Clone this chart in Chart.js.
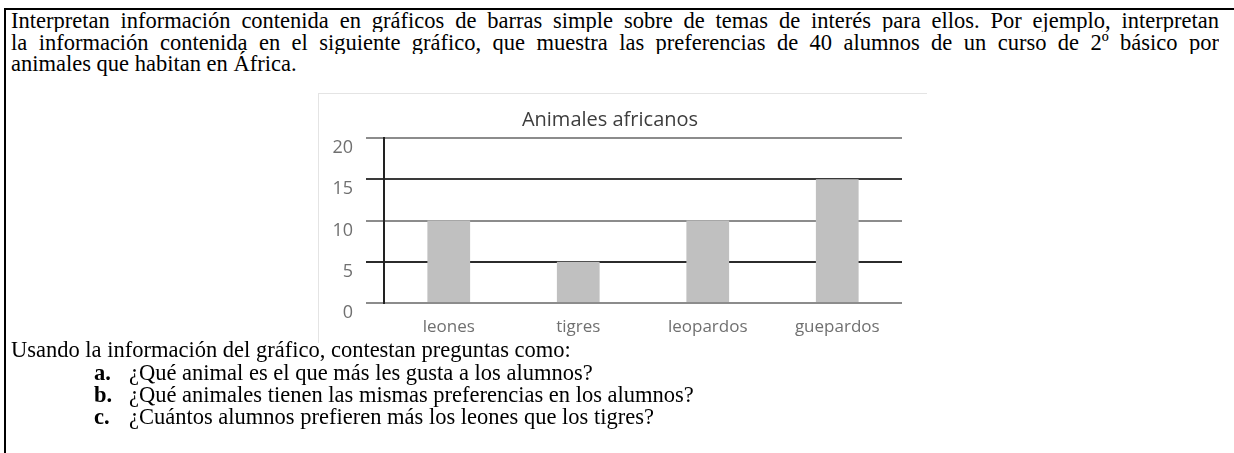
<!DOCTYPE html>
<html lang="es">
<head>
<meta charset="utf-8">
<script src="https://cdn.jsdelivr.net/npm/chart.js@4.4.1/dist/chart.umd.min.js"></script>
<style>
    html, body { margin: 0; padding: 0; background: #fff; width: 1234px; height: 453px; overflow: hidden; }
    #box { position: absolute; left: 4px; top: 8px; width: 1250px; height: 470px; border-top: 2px solid #000; border-left: 2px solid #000; }
    .line { position: absolute; left: 11px; font-family: "Liberation Serif", "Times New Roman", serif; font-size: 22.5px; line-height: 22px; color: #000; white-space: nowrap; }
    .just { width: 1208px; text-align: justify; text-align-last: justify; white-space: normal; height: 22px; overflow: hidden; }
    .item b { position: absolute; left: 83px; }
    .item span { position: absolute; left: 118px; }
    #frame { position: absolute; left: 318px; top: 93px; width: 609px; height: 250px; border-top: 1px solid #e4e4e4; border-left: 1px solid #e4e4e4; box-sizing: border-box; }
    #chartWrap { position: absolute; left: 318px; top: 93px; width: 609px; height: 250px; }
</style>
</head>
<body>
<div id="box"></div>
<div class="line just" style="top:10px">Interpretan información contenida en gráficos de barras simple sobre de temas de interés para ellos. Por ejemplo, interpretan</div>
<div class="line just" style="top:31.5px">la información contenida en el siguiente gráfico, que muestra las preferencias de 40 alumnos de un curso de 2º básico por</div>
<div class="line" style="top:53px">animales que habitan en África.</div>

<div id="frame"></div>
<div id="chartWrap"><canvas id="chartCanvas" width="609" height="250"></canvas></div>

<div class="line" style="top:338.5px">Usando la información del gráfico, contestan preguntas como:</div>
<div class="line item" style="top:362px"><b>a.</b><span>¿Qué animal es el que más les gusta a los alumnos?</span></div>
<div class="line item" style="top:384px"><b>b.</b><span>¿Qué animales tienen las mismas preferencias en los alumnos?</span></div>
<div class="line item" style="top:405.5px"><b>c.</b><span>¿Cuántos alumnos prefieren más los leones que los tigres?</span></div>

<script>
// Chart data
const categories = ["leones", "tigres", "leopardos", "guepardos"];
const votes = [10, 5, 10, 15];
const yMin = 0;
const yMax = 20;
const yStep = 5;

// Grid lines alternate between grey and dark in the original
const gridColors = ["#8c8c8c", "#2b2b2b", "#8c8c8c", "#3a3a3a", "#8c8c8c"];

const ctx = document.getElementById("chartCanvas").getContext("2d");
const chart = new Chart(ctx, {
    type: "bar",
    data: {
        labels: categories,
        datasets: [
            {
                data: votes,
                backgroundColor: "#c0c0c0",
                borderWidth: 0,
                barPercentage: 0.33,
                categoryPercentage: 1
            }
        ]
    },
    options: {
        animation: false,
        responsive: false,
        devicePixelRatio: 1,
        layout: {
            padding: { top: 15, right: 25, bottom: 0, left: 0 }
        },
        plugins: {
            legend: { display: false },
            tooltip: { enabled: false },
            title: {
                display: true,
                text: "Animales africanos",
                color: "#3d3d3d",
                font: { family: "Open Sans", size: 20, weight: "normal" },
                padding: { top: 0, bottom: 6 }
            }
        },
        scales: {
            x: {
                grid: { display: false, drawTicks: false },
                border: { display: false },
                ticks: {
                    color: "#707070",
                    font: { family: "Open Sans", size: 17 },
                    padding: 14
                },
                afterFit: scale => { scale.height = 40; }
            },
            y: {
                min: yMin,
                max: yMax,
                ticks: {
                    stepSize: yStep,
                    color: "#707070",
                    font: { family: "Open Sans", size: 18 },
                    padding: 13,
                    labelOffset: 10
                },
                grid: {
                    color: c => gridColors[c.index] || "#8c8c8c",
                    lineWidth: 2,
                    tickLength: 18
                },
                border: { display: true, color: "#222", width: 2 },
                afterFit: scale => { scale.width = 66; }
            }
        }
    }
});
</script>
</body>
</html>
